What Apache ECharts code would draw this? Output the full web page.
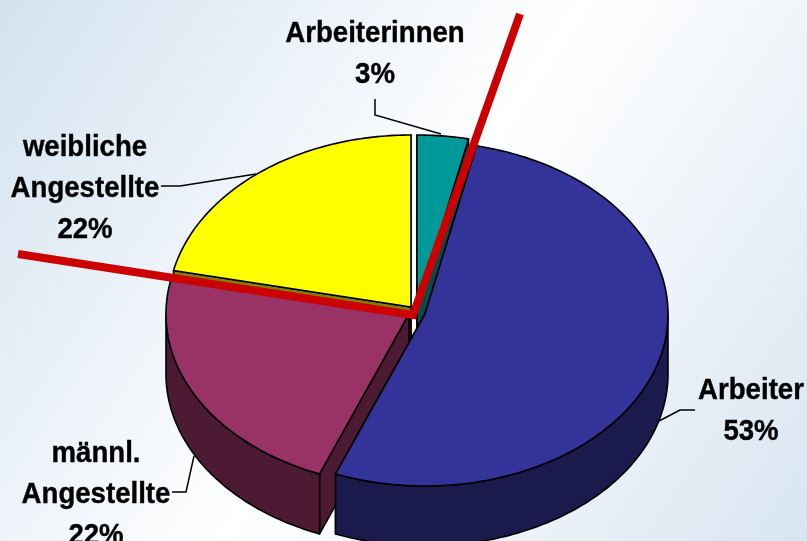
<!DOCTYPE html>
<html><head><meta charset="utf-8">
<style>html,body{margin:0;padding:0;background:#fff}#c{width:807px;height:541px}</style>
<script src="https://cdn.jsdelivr.net/npm/echarts@6/dist/echarts.min.js"></script>
</head><body><div id="c"></div>
<script>
// Data, clockwise from 12 o'clock
const categories = ['Arbeiterinnen', 'Arbeiter', 'männl.\nAngestellte', 'weibliche\nAngestellte'];
const values = [3.4, 52.6, 22.4, 21.6];

// Layout (pixel projection of the tilted pie)
const rx = 243, ry = 172, depth = 60;
const centers = [[417, 307], [425, 314], [409, 314], [411, 307]];
const labelAt = [[375, 54.5], [751, 411.5], [96, 495], [85, 188.5]];
const leaders = [
  [[375, 99], [375, 115], [441, 134]],
  [[695, 410], [680, 410], [659, 421]],
  [[172, 492], [186, 492], [194, 456]],
  [[161, 186], [180, 186], [256, 174]]
];
const topColors = ['#009999', '#333399', '#993366', '#FFFF00'];
const wallColors = ['#004D4D', '#1A1A4D', '#4D1A33', '#808000'];
const drawSequence = [3, 0, 2, 1]; // slice indices, back to front
const redLine = [[520, 14], [413, 315], [18, 254]];

const total = values.reduce((a, b) => a + b, 0);
const starts = [];
values.reduce((acc, v, i) => { starts[i] = acc; return acc + v / total * 360; }, 0);

function pt(c, deg, drop) {
  const t = deg * Math.PI / 180;
  return [c[0] + rx * Math.sin(t), c[1] - ry * Math.cos(t) + (drop || 0)];
}
function arc(c, a, b, drop) {
  const out = [], n = Math.max(2, Math.ceil(Math.abs(b - a)));
  for (let k = 0; k <= n; k++) out.push(pt(c, a + (b - a) * k / n, drop));
  return out;
}
const edge = { stroke: '#000', lineWidth: 1.6, lineJoin: 'round' };

function renderItem(params, api) {
  const i = api.value(1), c = centers[i];
  const a = starts[i], b = a + api.value(0) / total * 360;
  const kids = [];
  const wall = wallColors[i];
  const add = (points, fill) => kids.push({
    type: 'polygon', shape: { points },
    style: Object.assign({ fill }, edge)
  });
  // radial cut faces, trailing face first so the leading one stays on top
  [b, a].forEach(ang => {
    const p = pt(c, ang, 0), q = pt(c, ang, depth);
    add([c, p, q, [c[0], c[1] + depth]], wall);
  });
  // outer rim, only the part facing the viewer
  const w0 = Math.max(a, 90), w1 = Math.min(b, 270);
  if (w1 > w0) add(arc(c, w0, w1, 0).concat(arc(c, w1, w0, depth)), wall);
  // top face
  add([c].concat(arc(c, a, b, 0)), topColors[i]);
  // leader + label
  kids.push({
    type: 'polyline', shape: { points: leaders[i] },
    style: { stroke: '#000', lineWidth: 1.5, fill: null }
  });
  kids.push({
    type: 'text', x: labelAt[i][0], y: labelAt[i][1], scaleX: 0.92,
    style: {
      text: categories[i] + '\n' + Math.round(values[i]) + '%',
      fontFamily: 'Liberation Sans', fontWeight: 'bold', fontSize: 30,
      lineHeight: 41, fill: '#000', stroke: '#000', lineWidth: 0.4,
      align: 'center', verticalAlign: 'middle'
    }
  });
  return { type: 'group', children: kids };
}

const chart = echarts.init(document.getElementById('c'), null, { renderer: 'canvas' });
chart.setOption({
  animation: false,
  backgroundColor: {
    type: 'linear', x: 0, y: 0, x2: 1, y2: 1,
    colorStops: [
      { offset: 0, color: '#D3E2F0' },
      { offset: 0.5, color: '#FFFFFF' },
      { offset: 1, color: '#D8E5F1' }
    ]
  },
  series: [{
    type: 'custom', coordinateSystem: 'none', renderItem, silent: true,
    data: drawSequence.map(i => ({ name: categories[i], value: [values[i], i] }))
  }],
  graphic: [{
    type: 'polyline', z: 50, shape: { points: redLine },
    style: { stroke: '#CC0000', lineWidth: 8, fill: null, lineJoin: 'miter' }
  }]
});
</script></body></html>
